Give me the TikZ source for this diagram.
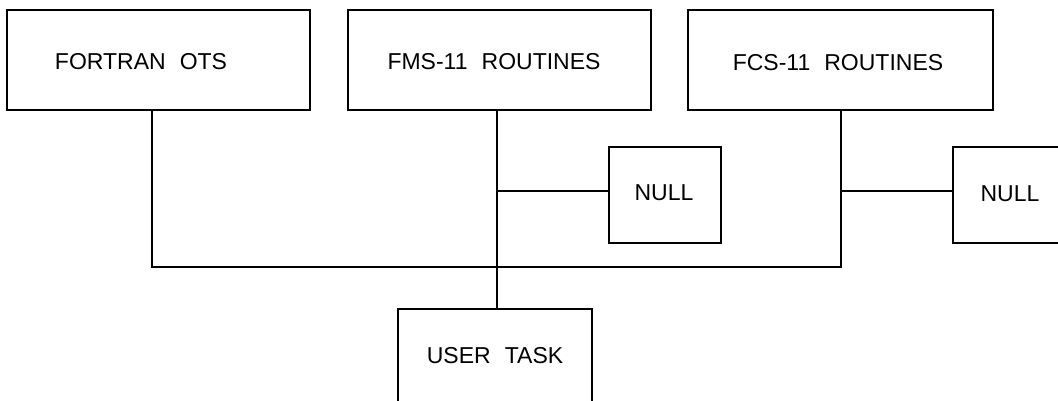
\documentclass[tikz,border=0pt]{standalone}
\usepackage{fontspec}
\setmainfont{Liberation Sans}[WordSpace=2.2]
\begin{document}
\begin{tikzpicture}[x=1pt,y=-1pt,
  box/.style={draw=black, line width=2.3pt, inner sep=0pt, anchor=center},
  lbl/.style={font=\fontsize{23}{27}\selectfont, inner sep=0pt, anchor=center},
  wire/.style={draw=black, line width=2.3pt}]
\useasboundingbox (0,0) rectangle (1058,401);
\clip (0,0) rectangle (1058,401);
% boxes
\node[box, minimum width=303pt, minimum height=100pt] (fortran) at (158.5,60) {};
\node[box, minimum width=303pt, minimum height=100pt] (fms) at (499.5,60) {};
\node[box, minimum width=305pt, minimum height=100pt] (fcs) at (840.5,60) {};
\node[box, minimum width=112pt, minimum height=96pt] (null1) at (665,195) {};
\node[box, minimum width=112pt, minimum height=96pt] (null2) at (1009,195) {};
\node[box, minimum width=194pt, minimum height=96pt] (user) at (495,357) {};
% labels
\node[lbl] (tfortran) at (141,62) {FORTRAN OTS};
\node[lbl] (tfms) at (494,62) {FMS-11 ROUTINES};
\node[lbl] (tfcs) at (838,63) {FCS-11 ROUTINES};
\node[lbl] (tnull1) at (664,193) {NULL};
\node[lbl] (tnull2) at (1010,194) {NULL};
\node[lbl] (tuser) at (495,356) {USER TASK};
% junction coordinates
\coordinate (j1) at (152,267);
\coordinate (m) at (497,191);
\coordinate (f) at (841,191);
% connectors
\draw[wire] (fortran.south -| j1) -- (j1) -| (fcs.south -| f);
\draw[wire] (fms.south -| m) -- (user.north -| m);
\draw[wire] (m) -- (null1.west |- m);
\draw[wire] (f) -- (null2.west |- f);
\end{tikzpicture}
\end{document}
